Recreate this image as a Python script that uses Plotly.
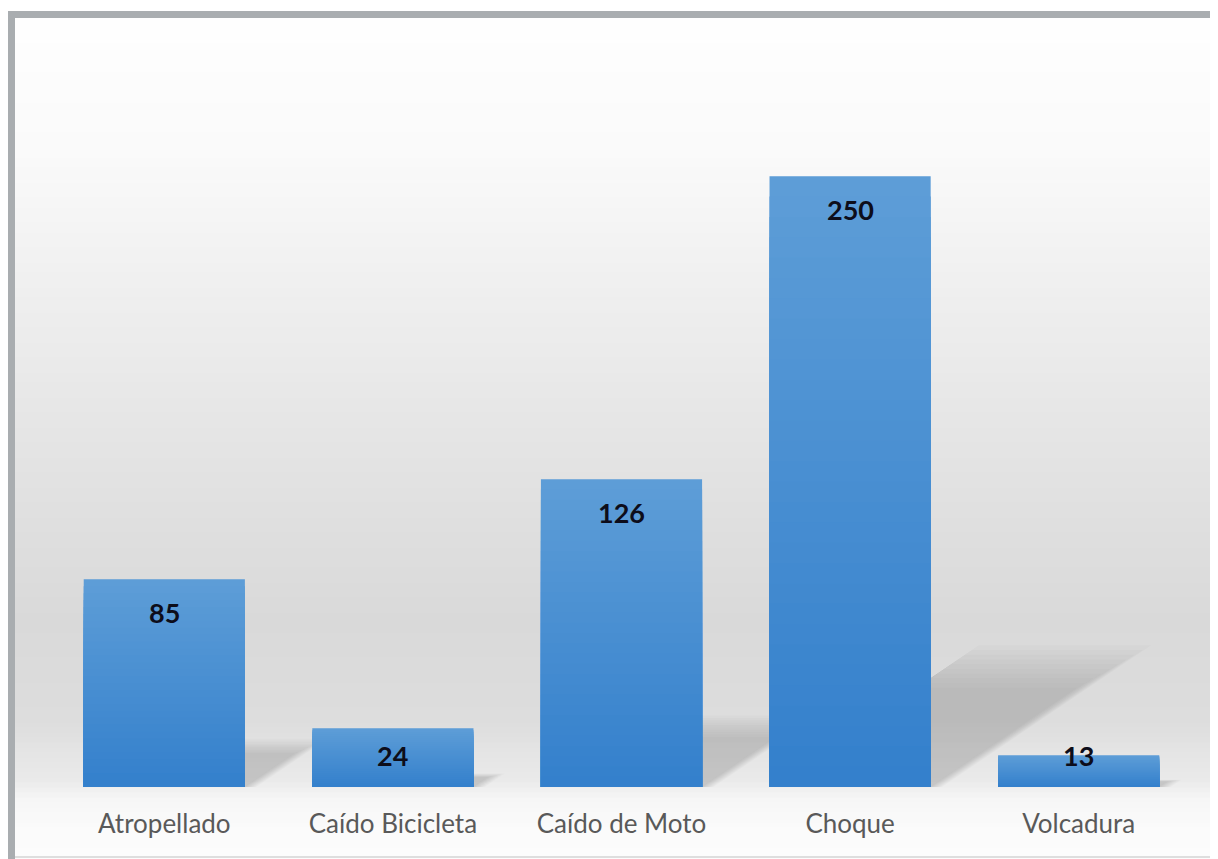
import plotly.graph_objects as go

# data
categories = ["Atropellado", "Caído Bicicleta", "Caído de Moto", "Choque", "Volcadura"]
values = [85, 24, 126, 250, 13]

W, H = 1218, 859
OFF = 8  # the page body margin shifts the figure by this much


def px(x):
    return (x - OFF) / W


def py(y):
    return 1 - (y - OFF) / H


def mix(c1, c2, t):
    return "rgb(%d,%d,%d)" % tuple(round(a + (b - a) * t) for a, b in zip(c1, c2))


fig = go.Figure()

# bars with a vertical gradient, done as overlaid bars of shrinking height
top_col = (93, 157, 215)
bot_col = (52, 128, 204)
n_bands = 30
for k in range(n_bands):
    frac = 1 - k / n_bands
    fig.add_trace(go.Bar(
        x=categories,
        y=[v * frac for v in values],
        marker=dict(color=mix(top_col, bot_col, k / (n_bands - 1)), line=dict(width=0)),
        hoverinfo="skip" if k else "x+y",
        showlegend=False,
    ))

shapes = []

# background gradient (white top -> grey -> lighter at floor)
stops = [(0, (255, 255, 255)), (150, (250, 250, 250)), (320, (237, 237, 237)),
         (480, (226, 226, 226)), (620, (217, 217, 217)), (720, (221, 221, 221)),
         (780, (234, 234, 234)), (800, (246, 246, 246)), (830, (251, 251, 251)),
         (870, (252, 252, 252))]
step = 5
for y0 in range(18, 870, step):
    y1 = y0 + step
    ym = (y0 + y1) / 2
    for (a, ca), (b, cb) in zip(stops, stops[1:]):
        if a <= ym <= b:
            col = mix(ca, cb, (ym - a) / (b - a))
            break
    shapes.append(dict(type="rect", xref="paper", yref="paper", layer="below",
                       x0=px(15), x1=1.01, y0=py(y1), y1=py(y0) + 0.0005,
                       fillcolor=col, line=dict(width=0)))

# soft shadows cast to the upper right of each bar (layered to fake a blur)
hw = 0.352
n_soft = 10
for i, v in enumerate(values):
    for j in range(n_soft):
        scale = 1.0 - 0.3 * j / (n_soft - 1)
        dx = 0.00366 * v * scale
        dy = 0.232 * v * scale
        grow = 0.05 * (1 - j / (n_soft - 1))
        path = (f"M {i - hw},0 L {i + hw + grow},0 L {i + hw + dx + grow},{dy} "
                f"L {i - hw + dx},{dy} Z")
        shapes.append(dict(type="path", xref="x", yref="y", layer="below", path=path,
                           fillcolor="rgba(60,60,60,0.019)", line=dict(width=0)))

# frame: grey band on the top and left, thin line at the bottom
frame = "#a9adb0"
shapes += [
    dict(type="rect", xref="paper", yref="paper", x0=px(8), x1=1.01, y0=py(18), y1=py(11),
         fillcolor=frame, line=dict(width=0)),
    dict(type="rect", xref="paper", yref="paper", x0=px(8), x1=px(15), y0=-0.02, y1=py(11),
         fillcolor=frame, line=dict(width=0)),
    dict(type="line", xref="paper", yref="paper", x0=px(15), x1=1.01, y0=py(857), y1=py(857),
         line=dict(color="#d4d4d4", width=1.5)),
]

# value labels near the top of each bar
label_drop = [33 if v >= 50 else (27 if v >= 20 else 0) for v in values]
annotations = [
    dict(x=c, y=v, text=f"<b>{v}</b>", showarrow=False, yshift=-d,
         font=dict(family="Lato, Open Sans, sans-serif", size=27, color="#0d0d1a"))
    for c, v, d in zip(categories, values, label_drop)
]

fig.update_layout(
    width=W, height=H,
    margin=dict(l=0, r=0, t=0, b=0),
    paper_bgcolor="white",
    plot_bgcolor="rgba(0,0,0,0)",
    barmode="overlay",
    bargap=0.295,
    shapes=shapes,
    annotations=annotations,
    xaxis=dict(domain=[px(50), px(1193)], showgrid=False, zeroline=False, showline=False,
               ticks="", ticklabelstandoff=19,
               tickfont=dict(family="Lato, Open Sans, sans-serif", size=26, color="#595959")),
    yaxis=dict(domain=[py(787), py(54)], range=[0, 300], visible=False,
               showgrid=False, zeroline=False),
    font=dict(family="Lato, Open Sans, sans-serif"),
)

fig.write_html("out.html")
